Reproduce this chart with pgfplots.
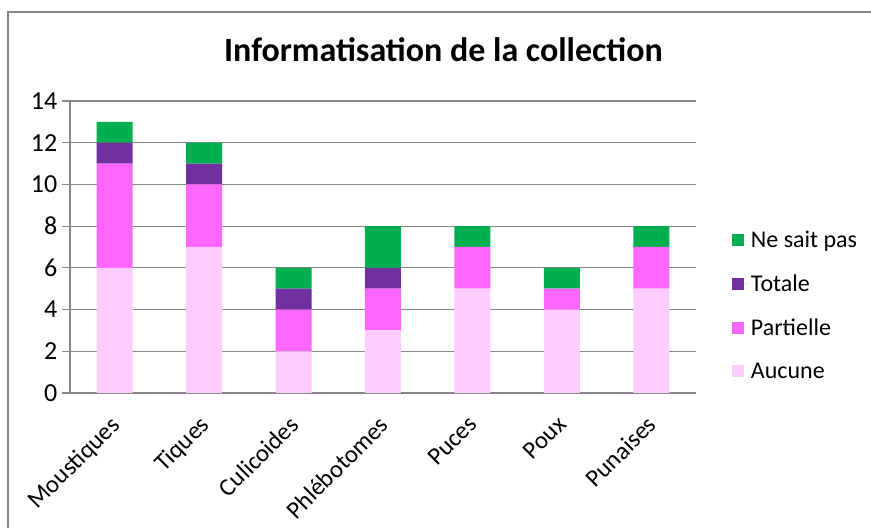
\documentclass[border=0pt]{standalone}
\usepackage{fontspec}
\setmainfont{Carlito}
\usepackage{pgfplots}
\pgfplotsset{compat=1.18}

\definecolor{aucune}{HTML}{FFCCFF}
\definecolor{partielle}{HTML}{FF66FF}
\definecolor{totale}{HTML}{7030A0}
\definecolor{nsp}{HTML}{00B050}
\definecolor{axgray}{HTML}{868686}

% 1 px of the reference = 0.75pt
\begin{document}
\begin{tikzpicture}
  \useasboundingbox (0,0) rectangle (653.25pt,396pt);
  \fill[white] (-1pt,-1pt) rectangle (655pt,398pt);
  \draw[axgray, line width=1.6pt] (6pt,-2pt) -- (6pt,387pt) -- (655pt,387pt);
  \node[font=\fontsize{25.5}{30}\selectfont\bfseries] at (332.6pt,358.5pt) {Informatisation de la collection};

  \begin{axis}[
    at={(52.5pt,101.25pt)}, anchor=south west,
    scale only axis,
    width=469.5pt, height=219pt,
    ybar stacked,
    bar width=27pt,
    xmin=-0.5, xmax=6.5,
    ymin=0, ymax=14,
    ytick={0,2,...,14},
    xtick=data,
    xticklabels={Moustiques,Tiques,Culicoides,Phlébotomes,Puces,Poux,Punaises},
    xtick style={draw=none},
    % shifts act in the rotated frame
    x tick label style={rotate=45, anchor=north east, font=\fontsize{18.5}{22}\selectfont, xshift=-6.5pt, yshift=-0.7pt},
    y tick label style={font=\fontsize{19.5}{23}\selectfont},
    /pgf/number format/assume math mode=true,
    extra x ticks={-0.5,0.5,1.5,2.5,3.5,4.5,5.5,6.5},
    extra x tick labels={},
    extra x tick style={major tick length=6pt, tick align=outside, grid=none, tick style={draw=axgray, line width=0.8pt}},
    ytick style={draw=axgray, line width=0.8pt},
    major tick length=6pt,
    tick align=outside,
    axis lines*=left,
    axis line style={draw=axgray, line width=0.8pt},
    ymajorgrids,
    grid style={draw=axgray, line width=0.8pt},
    reverse legend,
    legend cell align=left,
    legend style={draw=none, fill=none, at={(1,0.30)}, anchor=west, xshift=24pt,
      font=\fontsize{18}{21}\selectfont, row sep=15pt},
    area legend,
    legend image code/.code={\fill[#1, draw=none] (0pt,-4.5pt) rectangle (9pt,4.5pt);
      \path (0pt,0pt) -- (12pt,0pt);},
  ]
  \addplot[fill=aucune, draw=none] coordinates {(0,6) (1,7) (2,2) (3,3) (4,5) (5,4) (6,5)};
  \addplot[fill=partielle, draw=none] coordinates {(0,5) (1,3) (2,2) (3,2) (4,2) (5,1) (6,2)};
  \addplot[fill=totale, draw=none] coordinates {(0,1) (1,1) (2,1) (3,1) (4,0) (5,0) (6,0)};
  \addplot[fill=nsp, draw=none] coordinates {(0,1) (1,1) (2,1) (3,2) (4,1) (5,1) (6,1)};
  \legend{Aucune,Partielle,Totale,Ne sait pas}
  \end{axis}
\end{tikzpicture}
\end{document}
